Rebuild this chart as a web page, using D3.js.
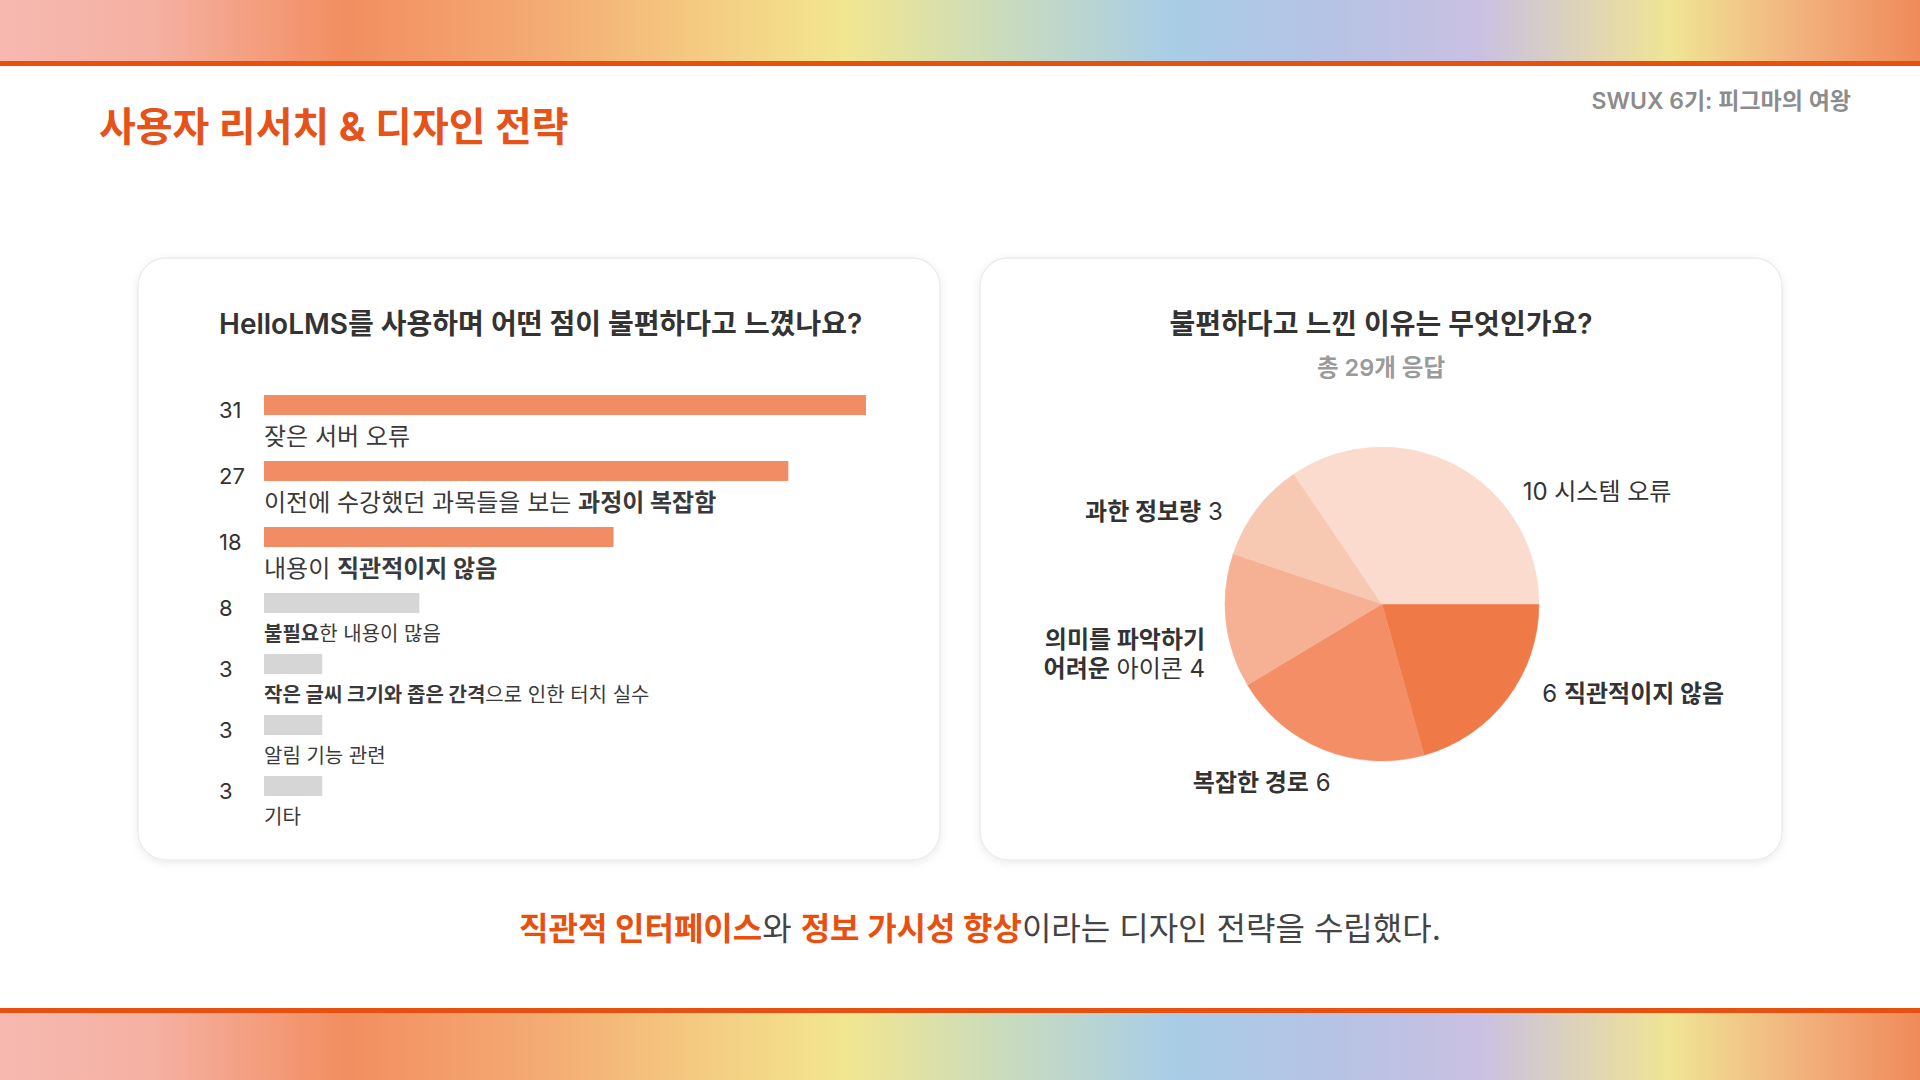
<!DOCTYPE html>
<html lang="ko">

<head>
  <meta charset="UTF-8" />
  <script src="https://d3js.org/d3.v7.min.js"></script>
  <style>
    body {
      margin: 0;
      background: #fff;
    }

    svg text {
      font-family: Inter, "Noto Sans CJK KR", sans-serif;
    }
  </style>
</head>

<body>
  <svg id="slide" width="1920" height="1080"></svg>

  <script>
    // survey question 1 : what was inconvenient (bold parts marked with **)
    const issueLabels = [
      "잦은 서버 오류",
      "이전에 수강했던 과목들을 보는 **과정이 복잡함**",
      "내용이 **직관적이지 않음**",
      "**불필요**한 내용이 많음",
      "**작은 글씨 크기와 좁은 간격**으로 인한 터치 실수",
      "알림 기능 관련",
      "기타"
    ];
    const issueCounts = [31, 27, 18, 8, 3, 3, 3];

    // survey question 2 : why it felt inconvenient (| = line break)
    const reasonNames = [
      "**직관적이지 않음**",
      "**복잡한 경로**",
      "**의미를 파악하기**|**어려운** 아이콘",
      "**과한 정보량**",
      "시스템 오류"
    ];
    const reasonCounts = [6, 6, 4, 3, 10];
    const reasonColors = ["#ef7a48", "#f38e66", "#f6b093", "#f8c9b2", "#fadbce"];

    const svg = d3.select("#slide");
    const orange = "#e8500f";

    // put "**bold**" markup into tspans
    function richText(sel, str, boldWeight, normalWeight) {
      str.split("**").forEach((part, i) => {
        if (part === "") return;
        sel.append("tspan")
          .attr("font-weight", i % 2 ? boldWeight : normalWeight)
          .text(part);
      });
    }

    // rainbow bands top and bottom
    const defs = svg.append("defs");
    const grad = defs.append("linearGradient").attr("id", "rainbow");
    [[0, "#f6b8b0"], [0.08, "#f5b1a2"], [0.18, "#f28e60"], [0.28, "#f4aa73"], [0.37, "#f4cd82"],
    [0.44, "#f2e690"], [0.52, "#cbdcbc"], [0.61, "#a8cde6"], [0.69, "#b5c3e4"], [0.77, "#c9c0e2"],
    [0.87, "#f0e494"], [0.94, "#f2b07c"], [1, "#f08a5a"]].forEach(s => {
      grad.append("stop").attr("offset", s[0]).attr("stop-color", s[1]);
    });
    const shadow = defs.append("filter").attr("id", "shadow")
      .attr("x", "-10%").attr("y", "-10%").attr("width", "120%").attr("height", "120%");
    shadow.append("feDropShadow").attr("dx", 0).attr("dy", 2).attr("stdDeviation", 4)
      .attr("flood-color", "#000").attr("flood-opacity", 0.08);

    svg.append("rect").attr("x", 0).attr("y", 0).attr("width", 1920).attr("height", 61).attr("fill", "url(#rainbow)");
    svg.append("rect").attr("x", 0).attr("y", 61).attr("width", 1920).attr("height", 5).attr("fill", orange);
    svg.append("rect").attr("x", 0).attr("y", 1013).attr("width", 1920).attr("height", 67).attr("fill", "url(#rainbow)");
    svg.append("rect").attr("x", 0).attr("y", 1008).attr("width", 1920).attr("height", 5).attr("fill", orange);

    // header
    svg.append("text")
      .attr("x", 99).attr("y", 141)
      .attr("font-size", "40px").attr("font-weight", 700)
      .attr("fill", "#e5531a")
      .text("사용자 리서치 & 디자인 전략");
    svg.append("text")
      .attr("x", 1851).attr("y", 109)
      .attr("text-anchor", "end")
      .attr("font-size", "23px").attr("font-weight", 600)
      .attr("fill", "#8c8c8c")
      .text("SWUX 6기: 피그마의 여왕");

    // cards
    [138, 980].forEach(x => {
      svg.append("rect")
        .attr("x", x).attr("y", 258)
        .attr("width", 802).attr("height", 602)
        .attr("rx", 28)
        .attr("fill", "#fff")
        .attr("stroke", "#ececec").attr("stroke-width", 1.5)
        .attr("filter", "url(#shadow)");
    });

    // ---- bar chart (left card)
    const left = svg.append("g");
    left.append("text")
      .attr("x", 219).attr("y", 334)
      .attr("font-size", "28px").attr("font-weight", 600)
      .attr("fill", "#333")
      .text("HelloLMS를 사용하며 어떤 점이 불편하다고 느꼈나요?");

    const barX = d3.scaleLinear().domain([0, d3.max(issueCounts)]).range([0, 602]);
    // first three rows use bigger labels, so they take a little more space
    const rowTop = [];
    issueCounts.forEach((d, i) => {
      rowTop.push(i === 0 ? 395 : rowTop[i - 1] + (i <= 3 ? 66 : 61));
    });

    const rows = left.selectAll("g.row").data(issueCounts)
      .join("g")
      .attr("class", "row")
      .attr("transform", (d, i) => `translate(0,${rowTop[i]})`);

    rows.append("rect")
      .attr("x", 264).attr("y", 0)
      .attr("width", d => barX(d))
      .attr("height", 20)
      .attr("fill", (d, i) => i < 3 ? "#f28c64" : "#d6d6d6");

    rows.append("text")
      .attr("x", 219).attr("y", 23)
      .attr("font-size", "22px")
      .attr("fill", "#333")
      .text(d => d);

    rows.append("text")
      .attr("x", 264)
      .attr("y", (d, i) => i < 3 ? 50 : 48)
      .attr("font-size", (d, i) => i < 3 ? "24px" : "20px")
      .attr("fill", "#3a3a3a")
      .each(function (d, i) { richText(d3.select(this), issueLabels[i], 700, 400); });

    // ---- pie chart (right card)
    const right = svg.append("g");
    right.append("text")
      .attr("x", 1381).attr("y", 334)
      .attr("text-anchor", "middle")
      .attr("font-size", "28px").attr("font-weight", 600)
      .attr("fill", "#333")
      .text("불편하다고 느낀 이유는 무엇인가요?");
    right.append("text")
      .attr("x", 1381).attr("y", 376)
      .attr("text-anchor", "middle")
      .attr("font-size", "23.5px").attr("font-weight", 600)
      .attr("fill", "#9a9a9a")
      .text(`총 ${d3.sum(reasonCounts)}개 응답`);

    const pieG = right.append("g").attr("transform", "translate(1382,604)");
    const pie = d3.pie().sort(null).value(d => d)
      .startAngle(Math.PI / 2).endAngle(Math.PI / 2 + 2 * Math.PI);
    const arcs = pie(reasonCounts);
    const arc = d3.arc().innerRadius(0).outerRadius(157);
    const labelArc = d3.arc().innerRadius(185).outerRadius(185);

    pieG.selectAll("path").data(arcs)
      .join("path")
      .attr("d", arc)
      .attr("fill", (d, i) => reasonColors[i])
      .attr("stroke", (d, i) => reasonColors[i])
      .attr("stroke-width", 0.5);

    // small hand nudges so labels sit where the slide had them
    const labelNudge = [[13, -14], [17, 15], [7, 24], [-12, 28], [54, 59]];

    pieG.selectAll("text.lbl").data(arcs)
      .join("text")
      .attr("class", "lbl")
      .attr("font-size", "24px")
      .attr("fill", "#333")
      .each(function (d, i) {
        const c = labelArc.centroid(d);
        const onRight = c[0] > 0;
        const x = c[0] + labelNudge[i][0];
        const y = c[1] + labelNudge[i][1];
        const t = d3.select(this)
          .attr("text-anchor", onRight ? "start" : "end");
        const lines = reasonNames[i].split("|");
        lines.forEach((line, li) => {
          let str = line;
          if (onRight && li === 0) str = d.data + " " + line;
          if (!onRight && li === lines.length - 1) str = line + " " + d.data;
          const ln = t.append("tspan").attr("x", x).attr("y", y + li * 29);
          richText(ln, str, 700, 400);
        });
      });

    // conclusion line
    const concl = svg.append("text")
      .attr("x", 980).attr("y", 940)
      .attr("text-anchor", "middle")
      .attr("font-size", "32px")
      .attr("fill", "#444");
    [["직관적 인터페이스", true], ["와 ", false], ["정보 가시성 향상", true], ["이라는 디자인 전략을 수립했다.", false]]
      .forEach(p => {
        concl.append("tspan")
          .attr("font-weight", p[1] ? 700 : 400)
          .attr("fill", p[1] ? orange : "#444")
          .text(p[0]);
      });
  </script>
</body>

</html>
